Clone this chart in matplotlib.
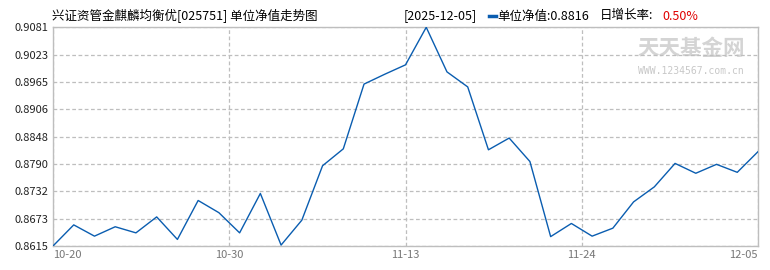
import numpy as np
import matplotlib
matplotlib.use("Agg")
import matplotlib.pyplot as plt
from matplotlib.lines import Line2D

plt.rcParams["font.family"] = ["Noto Sans CJK SC", "DejaVu Sans"]

# unit NAV, one value per trading day from 10-20 to 12-05
nav = [0.8615, 0.8660, 0.8636, 0.8656, 0.8643, 0.8677, 0.8629, 0.8712, 0.8686,
       0.8643, 0.8727, 0.8617, 0.8670, 0.8786, 0.8822, 0.8960, 0.8981, 0.9001,
       0.9081, 0.8986, 0.8954, 0.8820, 0.8845, 0.8795, 0.8635, 0.8663, 0.8636,
       0.8653, 0.8709, 0.8741, 0.8791, 0.8770, 0.8789, 0.8772, 0.8816]
date_labels = ["10-20", "10-30", "11-13", "11-24", "12-05"]
y_ticks = [0.8615, 0.8673, 0.8732, 0.8790, 0.8848, 0.8906, 0.8965, 0.9023, 0.9081]

title = "兴证资管金麒麟均衡优[025751] 单位净值走势图"
last_date = "[2025-12-05]"
last_nav = "单位净值:0.8816"
growth_label = "日增长率:"
growth_value = "0.50%"

grid_color = "#BEBEBE"
line_color = "#0A5DB0"


def main():
    fig = plt.figure(figsize=(7.7, 2.7), dpi=100)
    ax = fig.add_axes([53 / 770, 1 - 246 / 270, 705 / 770, 218.7 / 270])

    x = np.arange(len(nav))
    ax.plot(x, nav, color=line_color, linewidth=1.0, zorder=3)

    ax.set_xlim(0, len(nav) - 1)
    ax.set_ylim(y_ticks[0], y_ticks[-1])

    ax.set_yticks(y_ticks)
    ax.set_yticklabels(["%.4f" % v for v in y_ticks], fontsize=8, color="#222222")
    xt = np.linspace(0, len(nav) - 1, len(date_labels))
    ax.set_xticks(xt)
    ax.set_xticklabels(date_labels, fontsize=8, color="#777777")
    labels = ax.get_xticklabels()
    labels[0].set_horizontalalignment("left")
    labels[-1].set_horizontalalignment("right")
    ax.tick_params(length=0, pad=3)

    ax.grid(True, color=grid_color, linestyle=(0, (3, 2)), linewidth=0.9, zorder=1)
    for s in ax.spines.values():
        s.set_color(grid_color)
        s.set_linewidth(1.0)

    # watermark
    ax.text(0.905, 0.905, "天天基金网", transform=ax.transAxes, fontsize=15.5,
            fontweight="bold", color="#D4D4D4", ha="center", va="center", zorder=0)
    ax.text(0.905, 0.80, "WWW.1234567.com.cn", transform=ax.transAxes, fontsize=7,
            family="DejaVu Sans Mono", color="#C8C8C8", ha="center", va="center", zorder=0)

    # header
    ty = 1 - 16 / 270
    fig.text(52 / 770, ty, title, fontsize=9, ha="left", va="center")
    fig.text(404 / 770, ty, last_date, fontsize=9, ha="left", va="center")
    fig.add_artist(Line2D([489 / 770, 496 / 770], [ty, ty], color=line_color, linewidth=2.5))
    fig.text(497 / 770, ty, last_nav, fontsize=9, ha="left", va="center")
    fig.text(600 / 770, ty, growth_label, fontsize=9, ha="left", va="center")
    fig.text(662 / 770, ty, growth_value, fontsize=9, ha="left", va="center", color="#E00000")

    fig.savefig("out.png", dpi=100)


if __name__ == "__main__":
    main()
